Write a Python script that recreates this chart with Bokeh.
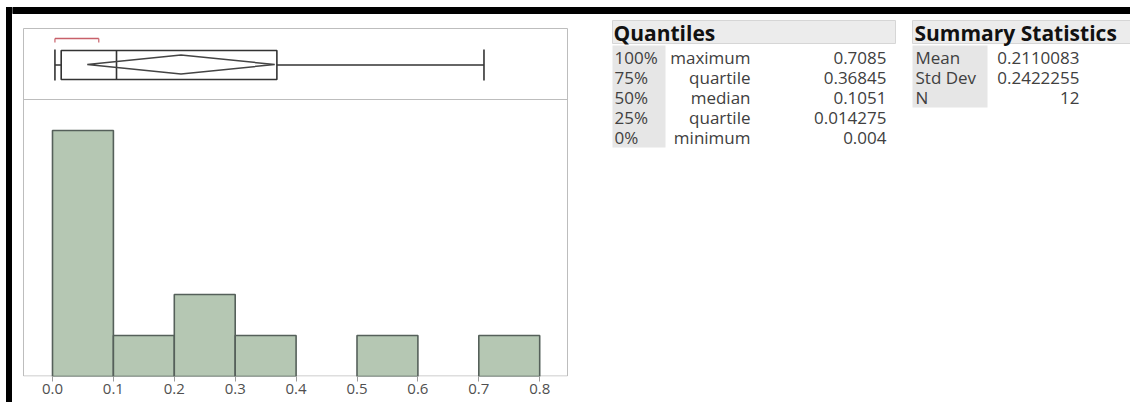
import numpy as np
from bokeh.plotting import figure
from bokeh.models import Range1d, FixedTicker, Div, Spacer
from bokeh.layouts import row
from bokeh.core.properties import value
from bokeh.embed import file_html
from bokeh.resources import INLINE

# ---------------- data ----------------
bin_edges = [0.0, 0.1, 0.2, 0.3, 0.4, 0.5, 0.6, 0.7, 0.8]
bin_counts = [6, 1, 2, 1, 0, 1, 0, 1]
tick_values = [0.0, 0.1, 0.2, 0.3, 0.4, 0.5, 0.6, 0.7, 0.8]
tick_labels = ["0.0", "0.1", "0.2", "0.3", "0.4", "0.5", "0.6", "0.7", "0.8"]

quantile_pcts = ["100%", "75%", "50%", "25%", "0%"]
quantile_names = ["maximum", "quartile", "median", "quartile", "minimum"]
quantile_values = [0.7085, 0.36845, 0.1051, 0.014275, 0.004]
quantile_texts = ["0.7085", "0.36845", "0.1051", "0.014275", "0.004"]

stat_names = ["Mean", "Std Dev", "N"]
stat_values = [0.2110083, 0.2422255, 12]
stat_texts = ["0.2110083", "0.2422255", "12"]

shortest_half = [0.004, 0.076]
t_crit = 2.201  # t(0.975, df=11) for the mean diamond

# ---------------- layout (pixels of the whole picture) ----------------
W_TOTAL, H = 1130, 402
OFF = 12                # left strip (white 6px + black 6px) before the main figure
W = W_TOTAL - OFF
X0_PX = 52.0            # x pixel of value 0.0
PX_PER_UNIT_X = 609.0   # pixels per 1.0 of x
FRAME_BOTTOM = 376.0    # y pixel of count 0
PX_PER_COUNT = 41.0
FONT = "Open Sans"

p = figure(width=W, height=H, output_backend="svg", toolbar_location=None,
           title=None,
           x_range=Range1d((OFF - X0_PX) / PX_PER_UNIT_X, (W_TOTAL - X0_PX) / PX_PER_UNIT_X),
           y_range=Range1d(0, FRAME_BOTTOM / PX_PER_COUNT),
           y_axis_location=None, x_axis_location="below",
           min_border_left=0, min_border_right=0, min_border_top=0,
           min_border_bottom=int(H - FRAME_BOTTOM))
p.extra_x_ranges = {"sx": Range1d(OFF, W_TOTAL)}
p.extra_y_ranges = {"sy": Range1d(FRAME_BOTTOM, 0)}
p.grid.visible = False
p.outline_line_color = None
p.background_fill_color = "white"
p.border_fill_color = "white"

ax = p.xaxis[0]
ax.ticker = FixedTicker(ticks=tick_values)
ax.major_label_overrides = {v: s for v, s in zip(tick_values, tick_labels)}
ax.axis_line_color = None
ax.major_tick_in = 0
ax.major_tick_out = 5
ax.major_tick_line_color = "#9a9a9a"
ax.minor_tick_line_color = None
ax.major_label_standoff = 2
ax.major_label_text_font = FONT
ax.major_label_text_font_size = "15px"
ax.major_label_text_color = "#505050"

S = dict(x_range_name="sx", y_range_name="sy")

# black window border (top)
p.quad(left=[OFF], right=[W_TOTAL], top=[7], bottom=[13], color="black", **S)

# panel frame + divider
p.quad(left=[23], right=[567], top=[28], bottom=[FRAME_BOTTOM - 0.5], fill_color=None,
       line_color="#bdbdbd", line_width=1, **S)
p.segment(x0=[23], x1=[567], y0=[99], y1=[99], line_color="#bdbdbd", line_width=1, **S)

# histogram bars
hl = [bin_edges[i] for i, c in enumerate(bin_counts) if c > 0]
hr = [bin_edges[i + 1] for i, c in enumerate(bin_counts) if c > 0]
hc = [c for c in bin_counts if c > 0]
p.quad(left=hl, right=hr, top=hc, bottom=0, fill_color="#b5c7b3",
       line_color="#55605a", line_width=1.6)

# box plot (x in data units, y in pixels)
q_max, q3, med, q1, q_min = quantile_values
mean, sd, n = stat_values
ci = t_crit * sd / np.sqrt(n)
BOX_T, BOX_B, BOX_C = 50, 79, 64.5
bc = "#333333"
p.quad(left=[q1], right=[q3], top=[BOX_T], bottom=[BOX_B], fill_color=None,
       line_color=bc, line_width=1.6, y_range_name="sy")
p.segment(x0=[med], x1=[med], y0=[BOX_T], y1=[BOX_B], line_color=bc, line_width=1.6, y_range_name="sy")
p.segment(x0=[q3, q1], x1=[q_max, q_min], y0=[BOX_C, BOX_C], y1=[BOX_C, BOX_C],
          line_color=bc, line_width=1.4, y_range_name="sy")
p.segment(x0=[q_min, q_max], x1=[q_min, q_max], y0=[BOX_T - 1, BOX_T - 1], y1=[BOX_B + 1, BOX_B + 1],
          line_color=bc, line_width=1.6, y_range_name="sy")
p.patch(x=[mean - ci, mean, mean + ci, mean], y=[64, 54.5, 64, 73.5], fill_color=None,
        line_color="#444444", line_width=1.5, y_range_name="sy")
# shortest half bracket
rc = "#c8606a"
p.segment(x0=[shortest_half[0]], x1=[shortest_half[1]], y0=[38], y1=[38], line_color=rc,
          line_width=1.5, y_range_name="sy")
p.segment(x0=shortest_half, x1=shortest_half, y0=[38, 38], y1=[42, 42], line_color=rc,
          line_width=1.2, y_range_name="sy")

# ---------------- tables ----------------
hdr_fill, hdr_line = "#ececec", "#d6d6d6"
col_fill = "#e6e6e6"
p.quad(left=[612, 912], right=[895, 1143], top=[20, 20], bottom=[43, 43],
       fill_color=hdr_fill, line_color=hdr_line, **S)
p.quad(left=[612, 912], right=[665, 987], top=[45, 45], bottom=[147, 107],
       fill_color=col_fill, line_color=None, **S)

p.text(x=[613, 914], y=[32, 32], text=["Quantiles", "Summary Statistics"],
       text_font=value(FONT), text_font_style="bold", text_font_size=value("21px"),
       text_color="#111111", text_baseline="middle", text_align="left", **S)

row_y = [57 + 20 * i for i in range(len(quantile_pcts))]
tc = "#404040"
tkw = dict(text_font=value(FONT), text_font_size=value("17px"), text_color=tc,
           text_baseline="middle", **S)
p.text(x=[614] * len(row_y), y=row_y, text=quantile_pcts, text_align="left", **tkw)
p.text(x=[750] * len(row_y), y=row_y, text=quantile_names, text_align="right", **tkw)
p.text(x=[886] * len(row_y), y=row_y, text=quantile_texts, text_align="right", **tkw)

srow_y = [57 + 20 * i for i in range(len(stat_names))]
p.text(x=[915] * len(srow_y), y=srow_y, text=stat_names, text_align="left", **tkw)
p.text(x=[1079] * len(srow_y), y=srow_y, text=stat_texts, text_align="right", **tkw)

# left black window border as a thin strip beside the figure
strip = Div(text="", width=6, height=H - 7, margin=(7, 0, 0, 0),
            styles={"background-color": "black"})
layout = row(Spacer(width=6, height=H, margin=0), strip, p, spacing=0)

open("out.html", "w").write(file_html(layout, INLINE))
